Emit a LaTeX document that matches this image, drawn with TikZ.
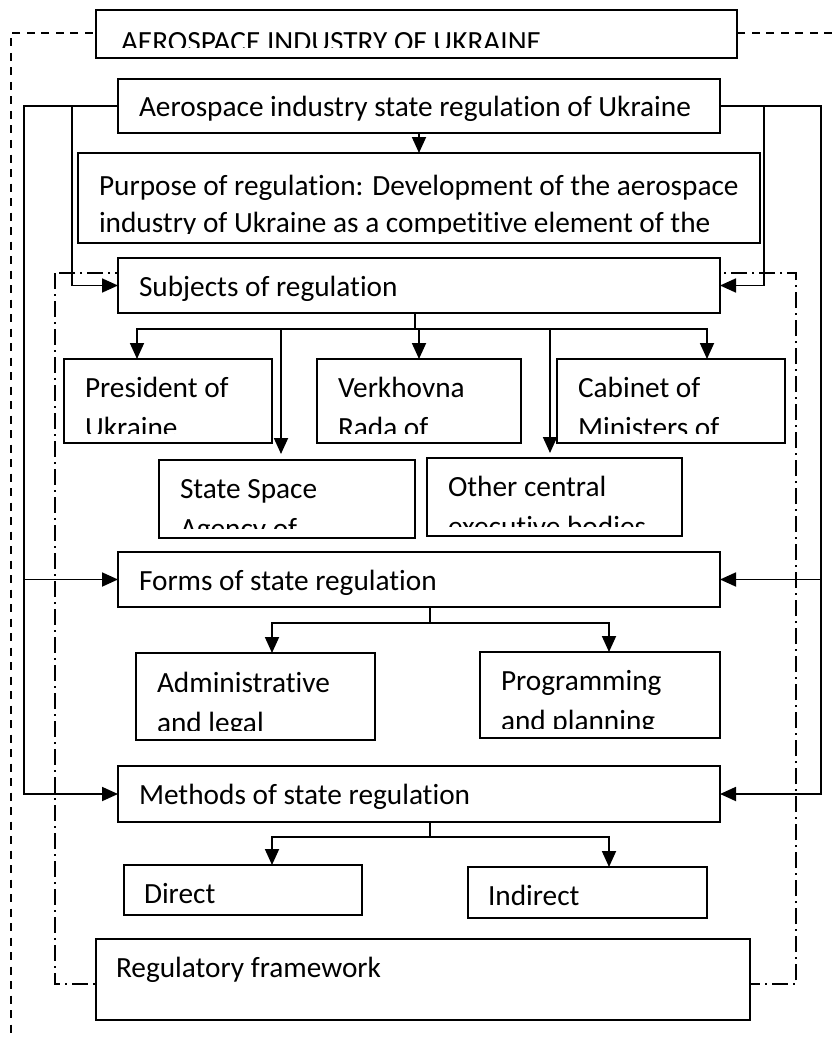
\documentclass[tikz,border=0pt]{standalone}
\usepackage{fontspec}
\setmainfont{Carlito}[Ligatures=NoCommon]
\usetikzlibrary{positioning,arrows.meta}

\begin{document}
\begin{tikzpicture}[%
	x=1pt, y=-1pt,
	>={Triangle[length=16pt,width=14pt]},
	line width=1.8pt,
	font=\fontsize{29.3}{35}\selectfont,
	txtoff/.store in=\txtoff, txtoff=38,
	txtgap/.store in=\txtgap, txtgap=40,
	txtx/.store in=\txtx, txtx=21,
	txt/.style={anchor=base west, inner sep=0pt, outer sep=0pt, minimum width=0pt, minimum height=0pt},
	blk/.style 2 args={draw, fill=white, line width=1.5pt, inner sep=0pt, outer sep=0pt, anchor=north west,
		path picture={
			\clip (path picture bounding box.north west) rectangle ([yshift=10pt]path picture bounding box.south east);
			\node[txt] at ([xshift=\txtx pt, yshift={-\txtoff*1pt}]path picture bounding box.north west) {#1};
			\node[txt] at ([xshift=\txtx pt, yshift={-(\txtoff+\txtgap)*1pt}]path picture bounding box.north west) {#2};
		}},
	dashframe/.style={line width=1.3pt, dash pattern=on 8pt off 6.5pt},
	dotframe/.style={line width=1.1pt, dash pattern=on 16pt off 5pt on 2pt off 5pt}
	]
	\useasboundingbox (0,0) rectangle (832,1038);
	
	\draw[dashframe] (832,33) -- (11,33) -- (11,1038);
	\draw[dotframe] (55,273) rectangle (796,984);
	
	\node[blk={AEROSPACE INDUSTRY OF UKRAINE}{}, txtx=25, txtoff=42, minimum width=641pt, minimum height=48pt] (ind) at (96,10) {};
	\node[blk={Aerospace industry state regulation of Ukraine}{}, minimum width=602pt, minimum height=54pt] (reg) at (118,79) {};
	\node[blk={Purpose of regulation: Development of the aerospace}{industry of Ukraine as a competitive element of the}, txtoff=42, txtgap=37, minimum width=682pt, minimum height=90pt] (goal) at (78,153) {};
	\node[blk={Subjects of regulation}{}, minimum width=602pt, minimum height=55pt] (subj) at (118,258) {};
	
	\node[blk={President of}{Ukraine}, minimum width=208pt, minimum height=84pt] (pres) at (64,359) {};
	\node[blk={Verkhovna}{Rada of}, minimum width=204pt, minimum height=84pt] (rada) at (317,359) {};
	\node[blk={Cabinet of}{Ministers of}, minimum width=228pt, minimum height=84pt] (cab) at (557,359) {};
	\node[blk={State Space}{Agency of}, minimum width=256pt, minimum height=78pt] (ssa) at (159,460) {};
	\node[blk={Other central}{executive bodies}, minimum width=255pt, minimum height=78pt] (ceb) at (427,458) {};
	
	\node[blk={Forms of state regulation}{}, minimum width=602pt, minimum height=55pt] (forms) at (118,552) {};
	\node[blk={Administrative}{and legal}, txtoff=39, minimum width=239pt, minimum height=87pt] (adm) at (136,653) {};
	\node[blk={Programming}{and planning}, minimum width=240pt, minimum height=86pt] (plan) at (480,652) {};
	
	\node[blk={Methods of state regulation}{}, minimum width=602pt, minimum height=56pt] (meth) at (118,766) {};
	\node[blk={Direct}{}, txtx=20, minimum width=238pt, minimum height=50pt] (dir) at (124,865) {};
	\node[blk={Indirect}{}, txtx=20, minimum width=239pt, minimum height=51pt] (indir) at (468,867) {};
	
	\node[blk={Regulatory framework}{}, txtx=20, minimum width=654pt, minimum height=81pt] (base) at (96,939) {};
	
	\draw[->] (reg) -- (goal);
	\draw[->] (reg.west) -| ([xshift=-94pt]meth.west) -- (meth.west);
	\draw[->] ([xshift=-94pt]forms.west) -- (forms.west);
	\draw[->] ([xshift=-46pt]reg.west) |- (subj.west);
	\draw[->] (reg.east) -| ([xshift=101pt]meth.east) -- (meth.east);
	\draw[->] ([xshift=101pt]forms.east) -- (forms.east);
	\draw[->] ([xshift=44pt]reg.east) |- (subj.east);
	
	\coordinate (sbar) at (415,329);
	\draw ([xshift=-4pt]subj.south) -- (sbar);
	\draw[->] (sbar) -| ([xshift=73pt]pres.north west);
	\draw[->] (sbar) -| (rada.north);
	\draw[->] (sbar) -| ([xshift=150pt]cab.north west);
	\draw[->, shorten >=6pt] (sbar) -| ([xshift=122pt]ssa.north west);
	\draw[->, shorten >=5pt] (sbar) -| ([xshift=123pt]ceb.north west);
	
	\coordinate (fbar) at (430,623);
	\draw ([xshift=11pt]forms.south) -- (fbar);
	\draw[->] (fbar) -| ([xshift=136pt]adm.north west);
	\draw[->] (fbar) -| ([xshift=129pt]plan.north west);
	
	\coordinate (mbar) at (430,837);
	\draw ([xshift=11pt]meth.south) -- (mbar);
	\draw[->] (mbar) -| ([xshift=148pt]dir.north west);
	\draw[->] (mbar) -| ([xshift=141pt]indir.north west);
\end{tikzpicture}
\end{document}
